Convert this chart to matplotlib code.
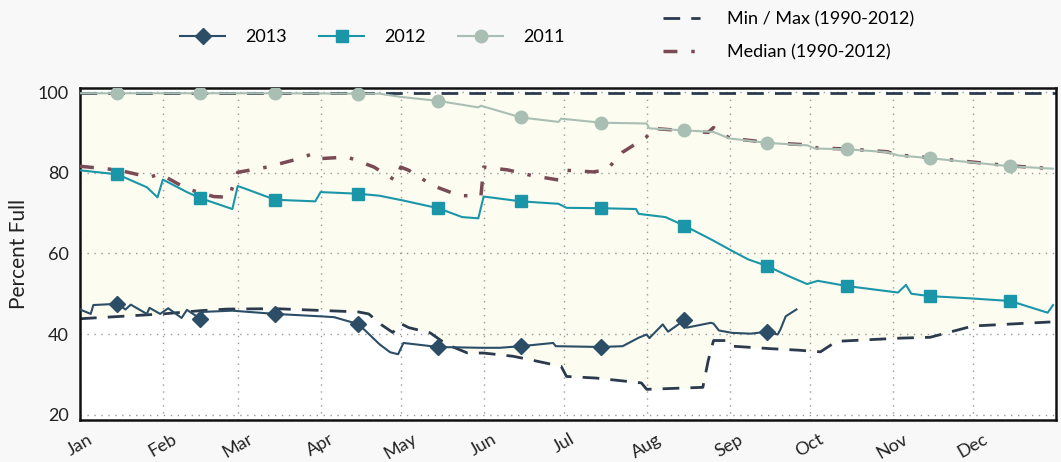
import matplotlib.pyplot as plt
import numpy as np
from matplotlib.lines import Line2D

# day of year (0 = Jan 1) and percent full
days_2013 = [0, 4, 5, 8, 14, 17, 19, 25, 26, 30, 33, 38, 40, 45, 46, 57, 73, 90, 95, 104,
             107, 112, 116, 119, 121, 134, 150, 157, 165, 177, 178, 195, 203, 209, 212, 213,
             218, 220, 226, 227, 236, 237, 239, 244, 251, 257, 261, 262, 264, 268]
vals_2013 = [46.1, 45.0, 47.2, 47.3, 47.5, 46.1, 47.3, 45.0, 46.5, 45.0, 46.4, 44.0, 46.0, 43.8,
             45.5, 45.8, 45.0, 44.4, 44.2, 42.5, 40.7, 37.5, 35.5, 35.0, 37.8, 36.8, 36.6, 36.6,
             37.0, 37.8, 37.0, 36.8, 37.0, 39.1, 39.9, 39.0, 42.4, 40.6, 43.4, 41.6, 42.8, 42.6,
             40.9, 40.3, 40.1, 40.6, 39.9, 41.1, 44.4, 46.1]

days_2012 = [0, 14, 25, 29, 31, 40, 45, 57, 59, 62, 73, 88, 90, 104, 112, 121, 134, 143, 149,
             151, 165, 179, 182, 195, 208, 209, 219, 226, 231, 236, 244, 250, 257, 265, 272,
             276, 287, 306, 309, 311, 318, 332, 348, 362, 364]
vals_2012 = [80.6, 79.6, 76.4, 73.9, 78.3, 75.2, 73.7, 71.0, 76.7, 76.0, 73.3, 72.9, 75.2, 74.8,
             74.3, 73.1, 71.2, 69.0, 68.7, 74.1, 72.9, 72.3, 71.3, 71.2, 71.0, 69.8, 69.0, 66.9,
             65.2, 63.5, 60.6, 58.5, 56.9, 54.4, 52.4, 53.2, 51.9, 50.3, 52.2, 50.0, 49.4, 48.9,
             48.2, 45.3, 47.2]

days_2011 = [0, 14, 45, 73, 104, 112, 120, 134, 149, 150, 165, 179, 180, 195, 212, 213, 226,
             237, 243, 257, 272, 275, 287, 302, 306, 318, 333, 348, 364]
vals_2011 = [99.7, 99.7, 99.7, 99.7, 99.6, 99.6, 98.8, 97.8, 96.2, 96.6, 93.7, 92.6, 93.4, 92.4,
             92.2, 91.0, 90.5, 90.1, 88.5, 87.4, 86.8, 86.0, 85.8, 85.1, 84.3, 83.6, 82.6, 81.6,
             81.0]

days_median = [0, 14, 26, 30, 40, 50, 56, 57, 59, 70, 82, 87, 90, 100, 110, 115, 118, 120, 123,
               132, 142, 150, 151, 160, 169, 179, 182, 192, 197, 203, 208, 212, 214, 226, 235,
               237, 239, 243, 257, 272, 276, 287, 302, 306, 318, 333, 348, 364]
vals_median = [81.6, 80.7, 78.9, 79.7, 76.0, 74.1, 73.9, 76.4, 80.1, 81.4, 83.5, 84.7, 83.5, 83.9,
               81.4, 79.3, 78.1, 81.4, 80.6, 76.8, 74.3, 74.3, 81.4, 80.7, 79.3, 78.2, 80.6, 80.2,
               80.7, 85.1, 87.2, 88.9, 91.0, 90.4, 90.0, 91.2, 90.2, 88.6, 87.5, 86.9, 86.1, 85.9,
               85.2, 84.4, 83.7, 82.7, 81.7, 81.0]

days_min = [0, 31, 45, 55, 73, 104, 108, 113, 117, 120, 123, 131, 137, 145, 151, 162, 168, 180,
            182, 193, 210, 212, 233, 235, 237, 242, 244, 258, 269, 277, 283, 307, 318, 334, 363]
vals_min = [43.8, 45.0, 45.8, 46.2, 46.3, 45.5, 45.0, 42.2, 40.4, 42.6, 41.6, 40.3, 37.5, 35.3,
            35.3, 34.5, 33.7, 32.0, 29.5, 29.1, 27.9, 26.3, 26.8, 33.4, 38.4, 38.4, 37.0, 36.4,
            36.0, 35.6, 38.2, 39.0, 39.2, 42.0, 43.0]

days_max = [0, 365]
vals_max = [99.7, 99.7]

mid_days = [14, 45, 73, 104, 134, 165, 195, 226, 257, 287, 318, 348]
month_starts = [0, 31, 59, 90, 120, 151, 181, 212, 243, 273, 304, 334]
month_labels = ['Jan', 'Feb', 'Mar', 'Apr', 'May', 'Jun', 'Jul', 'Aug', 'Sep', 'Oct', 'Nov', 'Dec']

c13 = '#2b4d66'
c12 = '#1a96a8'
c11 = '#a9bfb3'
cmed = '#7a4a55'
cmm = '#2b3b4d'

plt.rcParams['font.family'] = ['Lato', 'DejaVu Sans']

fig = plt.figure(figsize=(10.61, 4.62), dpi=100, facecolor='#f8f8f8')
ax = fig.add_axes([0.0754, 0.0909, 0.9196, 0.7186])
ax.set_facecolor('white')


def marks(days):
    return [i for i, d in enumerate(days) if d in mid_days]


ax.fill_between(days_min, vals_min, np.interp(days_min, days_max, vals_max),
                color='#fcfcf1', lw=0, zorder=1)
ax.plot(days_max, vals_max, color=cmm, lw=2, dashes=(6, 4), zorder=2)
ax.plot(days_min, vals_min, color=cmm, lw=2, dashes=(6, 4), zorder=2)
ax.plot(days_median, vals_median, color=cmed, lw=2.5, dashes=(4, 4, 1, 4), zorder=3)
ax.plot(days_2011, vals_2011, color=c11, lw=1.5, marker='o', ms=9,
        markevery=marks(days_2011), zorder=4)
ax.plot(days_2012, vals_2012, color=c12, lw=1.5, marker='s', ms=8,
        markevery=marks(days_2012), zorder=5)
ax.plot(days_2013, vals_2013, color=c13, lw=1.5, marker='D', ms=8,
        markevery=marks(days_2013), zorder=6)

ax.set_xlim(0, 365)
ax.set_ylim(18.7, 101)
ax.set_yticks([20, 40, 60, 80, 100])
ax.set_xticks(month_starts)
ax.set_xticklabels(month_labels, rotation=30, ha='center')
ax.tick_params(axis='both', length=0, labelsize=13, colors='#222222', pad=8)
ax.grid(True, color='#999999', ls=(0, (1, 4)), lw=1)
for s in ax.spines.values():
    s.set_linewidth(1.8)
    s.set_color('#111111')
ax.set_ylabel('Percent Full', fontsize=15, color='#222222', labelpad=6)

h1 = [Line2D([], [], color=c13, lw=1.5, marker='D', ms=8),
      Line2D([], [], color=c12, lw=1.5, marker='s', ms=8),
      Line2D([], [], color=c11, lw=1.5, marker='o', ms=9)]
fig.legend(h1, ['2013', '2012', '2011'], loc='center', bbox_to_anchor=(0.351, 0.92),
           ncol=3, frameon=False, fontsize=13, handlelength=2.5, columnspacing=1.8,
           handletextpad=1.1)
h2 = [Line2D([], [], color=cmm, lw=2, dashes=(6, 4)),
      Line2D([], [], color=cmed, lw=2.5, dashes=(4, 4, 1, 4))]
fig.legend(h2, ['Min / Max (1990-2012)', 'Median (1990-2012)'], loc='center left',
           bbox_to_anchor=(0.61, 0.922), frameon=False, fontsize=13, handlelength=2.0,
           handletextpad=1.5, labelspacing=0.95)

fig.savefig('out.png', dpi=100, facecolor=fig.get_facecolor())
